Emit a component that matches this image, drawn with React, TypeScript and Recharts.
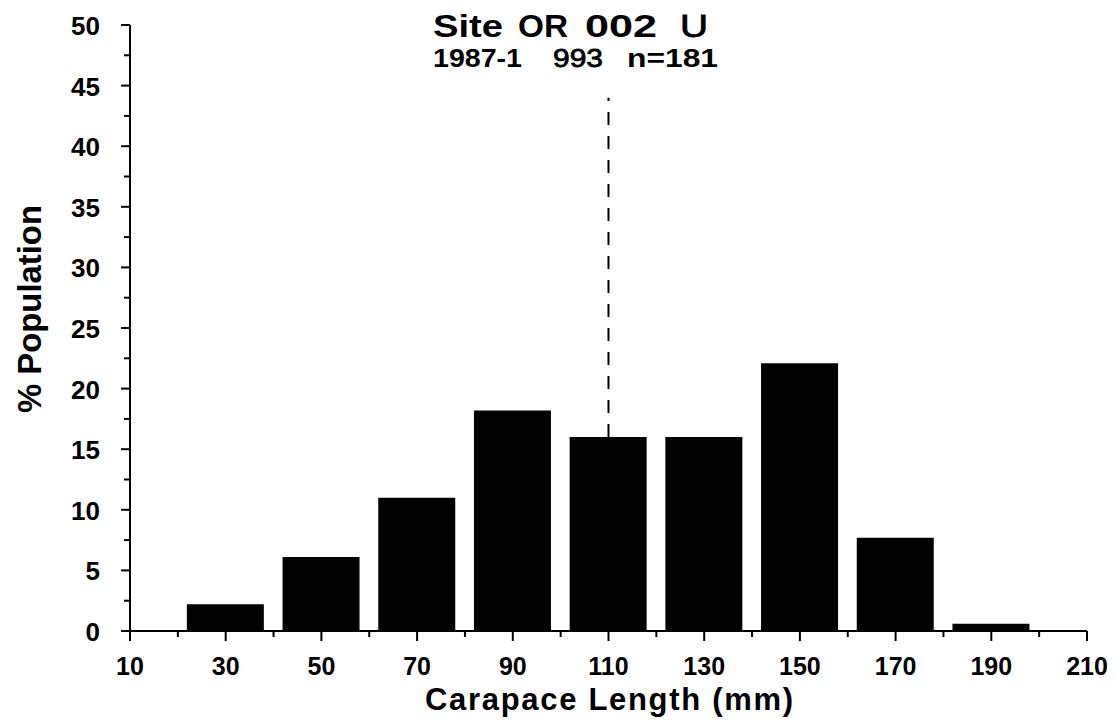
import React from "react";
import { BarChart, Bar, XAxis, YAxis, ReferenceLine } from "recharts";

// ---- data ----
const lengthBins = [30, 50, 70, 90, 110, 130, 150, 170, 190];
const percentPopulation = [2.2, 6.1, 11.0, 18.2, 16.0, 16.0, 22.1, 7.7, 0.6];
const xTicks = [10, 20, 30, 40, 50, 60, 70, 80, 90, 100, 110, 120, 130, 140, 150, 160, 170, 180, 190, 200, 210];
const xLabelTicks = [10, 30, 50, 70, 90, 110, 130, 150, 170, 190, 210];
const yTicks = [0, 2.5, 5, 7.5, 10, 12.5, 15, 17.5, 20, 22.5, 25, 27.5, 30, 32.5, 35, 37.5, 40, 42.5, 45, 47.5, 50];
const yLabelTicks = [0, 5, 10, 15, 20, 25, 30, 35, 40, 45, 50];
const meanLength = 110;
const meanLineRange = [16, 44];

const data = lengthBins.map((x, i) => ({ x, pct: percentPopulation[i] }));

const FONT = '"Liberation Sans", Arial, Helvetica, sans-serif';

const XTick = (props: any) => {
  const { x, y, payload } = props;
  const v = payload.value;
  const major = xLabelTicks.includes(v);
  return (
    <g>
      <line x1={x} x2={x} y1={y} y2={y + (major ? 10 : 6)} stroke="#000" strokeWidth={2} />
      {major && (
        <text x={x} y={y + 44} textAnchor="middle" fontFamily={FONT} fontWeight="bold" fontSize={25} fill="#000">
          {v}
        </text>
      )}
    </g>
  );
};

const YTick = (props: any) => {
  const { x, y, payload } = props;
  const v = payload.value;
  const major = yLabelTicks.includes(v);
  return (
    <g>
      <line x1={x - (major ? 9 : 6)} x2={x} y1={y} y2={y} stroke="#000" strokeWidth={2} />
      {major && (
        <text x={x - 30} y={y + 10} textAnchor="end" fontFamily={FONT} fontWeight="bold" fontSize={26} fill="#000">
          {v}
        </text>
      )}
    </g>
  );
};

export default function App() {
  return (
    <div style={{ position: "absolute", left: 0, top: 0, width: 1115, height: 723, background: "#fff" }}>
      <BarChart
        width={1115}
        height={723}
        data={data}
        margin={{ top: 25, right: 28, bottom: 0, left: 0 }}
      >
        <XAxis
          type="number"
          dataKey="x"
          domain={[10, 210]}
          ticks={xTicks}
          interval={0}
          tickSize={0}
          tickMargin={0}
          tickLine={false}
          tick={<XTick />}
          height={92}
          axisLine={{ stroke: "#000", strokeWidth: 2 }}
        />
        <YAxis
          type="number"
          domain={[0, 50]}
          ticks={yTicks}
          interval={0}
          tickSize={0}
          tickMargin={0}
          tickLine={false}
          tick={<YTick />}
          width={130}
          axisLine={{ stroke: "#000", strokeWidth: 2 }}
        />
        <Bar dataKey="pct" fill="#000" barSize={77} isAnimationActive={false} />
        <ReferenceLine
          segment={[
            { x: meanLength, y: meanLineRange[0] },
            { x: meanLength, y: meanLineRange[1] },
          ]}
          stroke="#000"
          strokeWidth={2}
          strokeDasharray="13 11"
        />
      </BarChart>
      <svg
        width={1115}
        height={723}
        style={{ position: "absolute", left: 0, top: 0, pointerEvents: "none" }}
        fontFamily={FONT}
      >
        <text x={433} y={37} fontSize={31} fontWeight="bold" textLength={70} lengthAdjust="spacingAndGlyphs">Site</text>
        <text x={518} y={37} fontSize={31} fontWeight="bold" textLength={50} lengthAdjust="spacingAndGlyphs">OR</text>
        <text x={585} y={37} fontSize={31} fontWeight="bold" textLength={72} lengthAdjust="spacingAndGlyphs">002</text>
        <text x={680} y={37} fontSize={31} stroke="#000" strokeWidth={0.8} textLength={28} lengthAdjust="spacingAndGlyphs">U</text>
        <text x={433} y={67} fontSize={26} fontWeight="bold" textLength={89} lengthAdjust="spacingAndGlyphs">1987-1</text>
        <text x={553} y={67} fontSize={26} stroke="#000" strokeWidth={0.8} textLength={50} lengthAdjust="spacingAndGlyphs">993</text>
        <text x={627} y={67} fontSize={26} fontWeight="bold" textLength={91} lengthAdjust="spacingAndGlyphs">n=181</text>
        <text
          x={41}
          y={309}
          transform="rotate(-90, 41, 309)"
          textAnchor="middle"
          fontSize={33}
          fontWeight="bold"
          textLength={208}
          lengthAdjust="spacingAndGlyphs"
        >
          % Population
        </text>
        <text x={425} y={710} textAnchor="start" fontSize={31} fontWeight="bold" textLength={368} lengthAdjust="spacing">
          Carapace Length (mm)
        </text>
      </svg>
    </div>
  );
}
